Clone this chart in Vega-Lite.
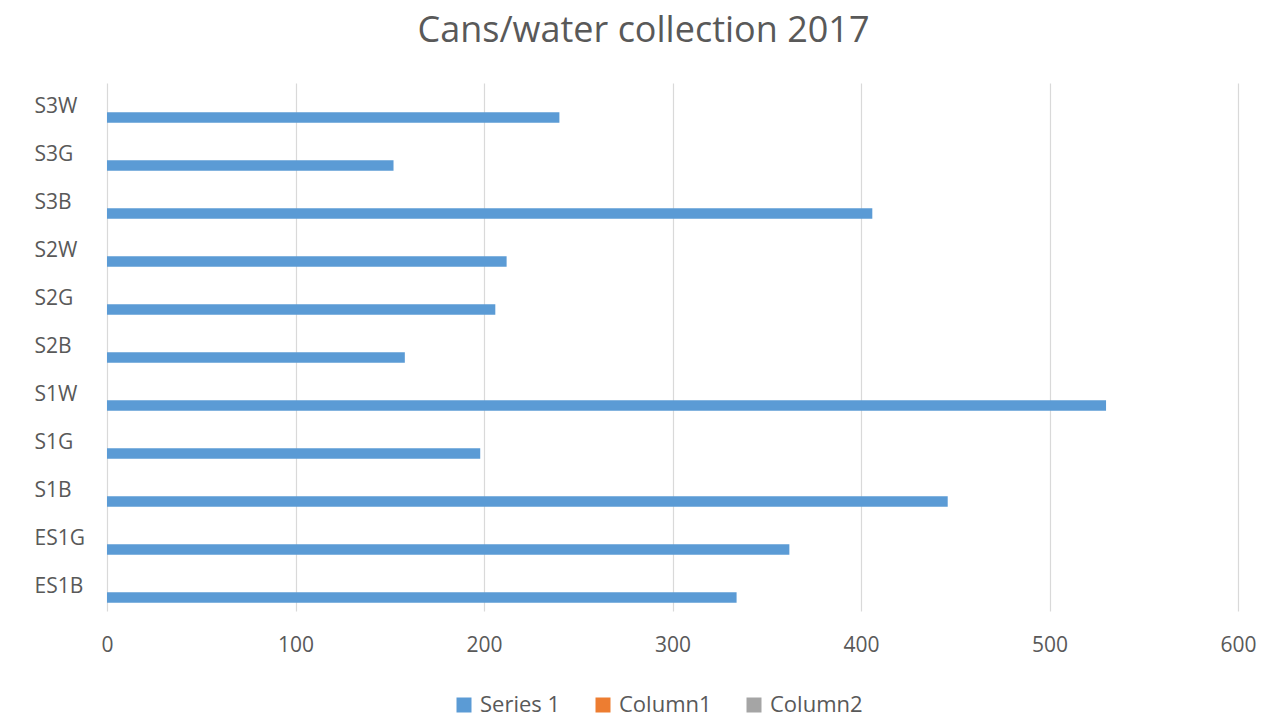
{
  "$schema": "https://vega.github.io/schema/vega-lite/v6.json",
  "width": 1131,
  "height": 528,
  "autosize": {"type": "none"},
  "padding": {"left": 107, "top": 83, "right": 49, "bottom": 110},
  "background": "white",
  "title": {
    "text": "Cans/water collection 2017",
    "anchor": "middle",
    "dx": -29,
    "offset": 33,
    "font": "Open Sans",
    "fontSize": 36,
    "fontWeight": "normal",
    "color": "#595959"
  },
  "data": {
    "values": [
      {"cat": "S3W", "series": "Series 1", "value": 240},
      {"cat": "S3G", "series": "Series 1", "value": 152},
      {"cat": "S3B", "series": "Series 1", "value": 406},
      {"cat": "S2W", "series": "Series 1", "value": 212},
      {"cat": "S2G", "series": "Series 1", "value": 206},
      {"cat": "S2B", "series": "Series 1", "value": 158},
      {"cat": "S1W", "series": "Series 1", "value": 530},
      {"cat": "S1G", "series": "Series 1", "value": 198},
      {"cat": "S1B", "series": "Series 1", "value": 446},
      {"cat": "ES1G", "series": "Series 1", "value": 362},
      {"cat": "ES1B", "series": "Series 1", "value": 334}
    ]
  },
  "mark": {"type": "bar"},
  "encoding": {
    "y": {
      "field": "cat",
      "type": "nominal",
      "sort": ["S3W", "S3G", "S3B", "S2W", "S2G", "S2B", "S1W", "S1G", "S1B", "ES1G", "ES1B"],
      "scale": {"paddingInner": 0.344, "paddingOuter": 0.172},
      "axis": {
        "title": null,
        "domain": false,
        "ticks": false,
        "grid": false,
        "labelAlign": "left",
        "labelPadding": 73,
        "labelFont": "Open Sans",
        "labelFontSize": 21,
        "labelColor": "#595959"
      }
    },
    "yOffset": {
      "field": "series",
      "type": "nominal",
      "scale": {"domain": ["Column2", "Column1", "Series 1"], "paddingInner": 0, "paddingOuter": 0}
    },
    "x": {
      "field": "value",
      "type": "quantitative",
      "scale": {"domain": [0, 600], "nice": false},
      "axis": {
        "title": null,
        "values": [0, 100, 200, 300, 400, 500, 600],
        "domain": false,
        "ticks": false,
        "grid": true,
        "gridColor": "#D9D9D9",
        "gridWidth": 1.2,
        "labelFlush": false,
        "labelPadding": 23,
        "labelFont": "Open Sans",
        "labelFontSize": 21,
        "labelColor": "#595959"
      }
    },
    "color": {
      "field": "series",
      "type": "nominal",
      "scale": {"domain": ["Series 1", "Column1", "Column2"], "range": ["#5B9BD5", "#ED7D31", "#A5A5A5"]},
      "legend": {
        "title": null,
        "orient": "none",
        "direction": "horizontal",
        "legendX": 346,
        "legendY": 611,
        "symbolType": "square",
        "symbolSize": 225,
        "symbolStrokeWidth": 0,
        "symbolOpacity": 1,
        "labelFont": "Open Sans",
        "labelFontSize": 22,
        "labelColor": "#595959",
        "columnPadding": 31,
        "labelOffset": 5,
        "padding": 0
      }
    }
  },
  "config": {
    "view": {"stroke": null}
  }
}
